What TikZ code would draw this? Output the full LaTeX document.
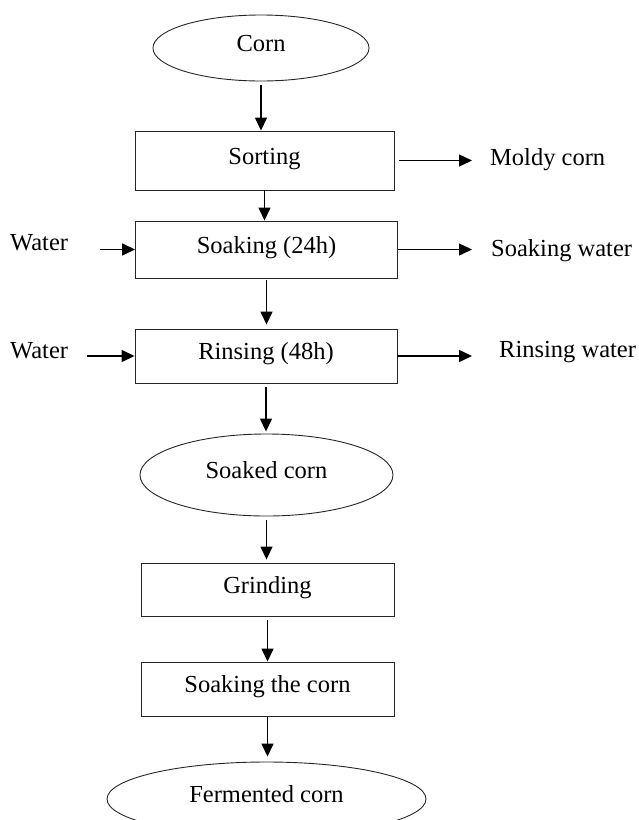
\documentclass[tikz,border=0pt]{standalone}
\usepackage{fontspec}
\setmainfont{Liberation Serif}
\usetikzlibrary{shapes.geometric,arrows.meta}
\tikzset{
  stepbox/.style={draw=black!85, line width=0.9pt, rectangle, inner sep=0pt, text height=17pt, text depth=10pt},
  endbox/.style={draw=black!85, line width=0.9pt, ellipse, inner sep=0pt, text height=17pt, text depth=10pt},
  side/.style={anchor=west, inner sep=0pt},
  flow/.style={line width=1.4pt, -{Triangle[length=13pt,width=12pt]}},
}
\begin{document}
\begin{tikzpicture}[x=1pt,y=-1pt,font=\fontsize{24.5}{29}\selectfont]
      \clip (0,0) rectangle (638,820);
      \node[endbox, minimum width=216pt, minimum height=66pt] (corn) at (261,48) {Corn};
      \node[stepbox, minimum width=259pt, minimum height=59pt] (sort) at (264.5,160.5) {Sorting};
      \node[stepbox, minimum width=262pt, minimum height=57pt] (soak) at (266.5,249.5) {Soaking (24h)};
      \node[stepbox, minimum width=262pt, minimum height=54pt] (rinse) at (266,356) {Rinsing (48h)};
      \node[endbox, minimum width=253pt, minimum height=82pt] (soaked) at (266.5,475) {Soaked corn};
      \node[stepbox, minimum width=253pt, minimum height=53pt] (grind) at (267.5,589.5) {Grinding};
      \node[stepbox, minimum width=253pt, minimum height=54pt] (soakcorn) at (267.5,689) {Soaking the corn};
      \node[endbox, minimum width=319pt, minimum height=74pt] (ferm) at (266.5,799) {Fermented corn};
        % inputs and outputs
      \node[side] (mold) at (490,160) {Moldy corn};
      \node[side] (soakw) at (491,251) {Soaking water};
      \node[side] (rinsew) at (499,352) {Rinsing water};
      \node[side] (wone) at (10,243) {Water};
      \node[side] (wtwo) at (10,351) {Water};
        % main flow
      \draw[flow, shorten <=4pt] (corn.south) -- (corn.south |- sort.north);
      \draw[flow] (sort.south) -- (sort.south |- soak.north);
      \draw[flow, shorten <=2pt, shorten >=4pt] (soak.south) -- (soak.south |- rinse.north);
      \draw[flow, shorten <=4pt, shorten >=2pt] (rinse.south) -- (rinse.south |- soaked.north);
      \draw[flow, shorten <=4pt, shorten >=3pt] (soaked.south) -- (soaked.south |- grind.north);
      \draw[flow, shorten <=4pt] (grind.south) -- (grind.south |- soakcorn.north);
      \draw[flow, shorten <=1pt, shorten >=5pt] (soakcorn.south) -- (soakcorn.south |- ferm.north);
        % side arrows
      \draw[flow, shorten <=5pt, shorten >=18pt] (sort.east) -- (sort.east -| mold.west);
      \draw[flow, shorten >=19pt] (soak.east) -- (soak.east -| soakw.west);
      \draw[flow, shorten >=27pt] (rinse.east) -- (rinse.east -| rinsew.west);
      \draw[flow] ([xshift=32pt]wone.east |- soak.west) -- (soak.west);
      \draw[flow] ([xshift=19pt]wtwo.east |- rinse.west) -- (rinse.west);
\end{tikzpicture}
\end{document}
